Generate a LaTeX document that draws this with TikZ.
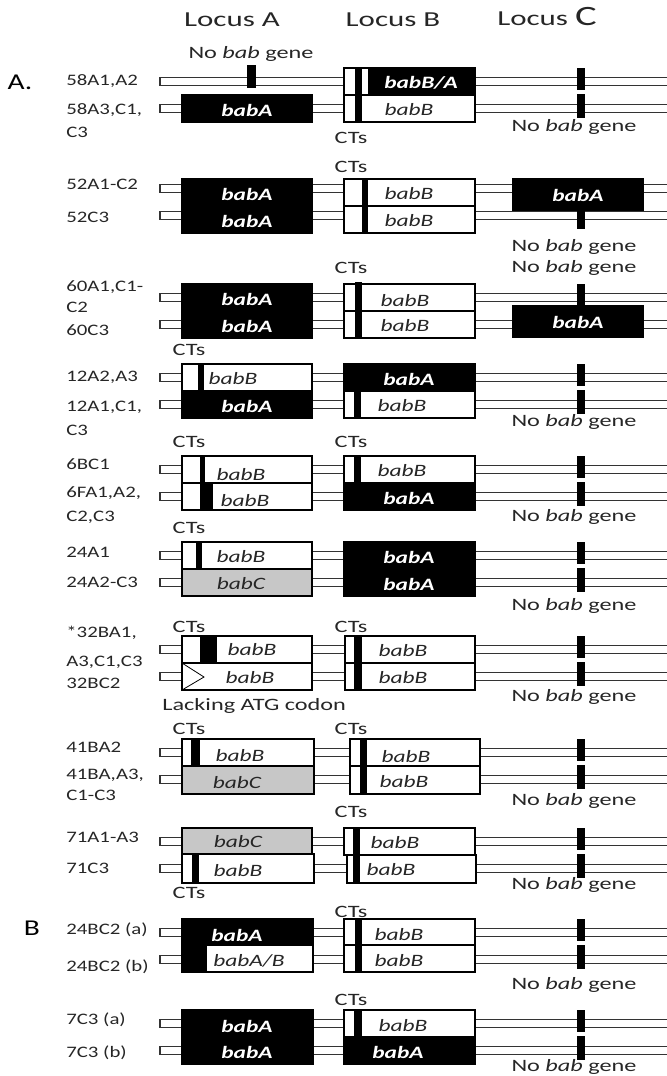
\documentclass[tikz,border=0pt]{standalone}
\usepackage{fontspec}
\setmainfont{Carlito}
\usetikzlibrary{positioning}
\tikzset{
  chrom/.style={draw=black!80, line width=0.9pt, fill=white},
  geneline/.style={draw, line width=0.9pt},
  genebox/.style={draw, line width=0.9pt, fill=white},
  geneblack/.style={draw, line width=0.9pt, fill=black},
  genegray/.style={draw, line width=0.9pt, fill=black!22},
  genename/.style={font=\fontsize{13}{15}\selectfont\itshape, xscale=1.35, inner sep=0pt, text=black!85},
  genenamew/.style={genename, font=\fontsize{13}{15}\selectfont\bfseries\itshape, text=white},
  strainlbl/.style={font=\fontsize{12}{14}\selectfont, xscale=1.3, anchor=west, inner sep=0pt, text=black!85},
  notetext/.style={font=\fontsize{13}{15}\selectfont, xscale=1.4, inner sep=0pt, text=black!85},
  locushead/.style={font=\fontsize{16}{18}\selectfont, xscale=1.45, inner sep=0pt, text=black!85},
  panelmark/.style={font=\fontsize{17}{19}\selectfont, xscale=1.3, inner sep=0pt},
}
\newcommand{\nobabgene}{No \textit{bab} gene}

\begin{document}
\begin{tikzpicture}[x=0.75pt, y=-0.75pt]
  \useasboundingbox (0,0) rectangle (667,1076);

  % chromosomes (top of pair / shift of the lines), with the small locus C marks
  \foreach \t/\d in {68/0,179/-4,284/0,364/0,456/0,542/0,636/0,739/0,828/0,919/0,1010/0} {
    \foreach \r in {13.5,40.5}
      \draw[chrom] (668,\t+\d+\r-4) -- (160,\t+\d+\r-4) -- (160,\t+\d+\r+4) -- (668,\t+\d+\r+4);
    \fill (577,\t) rectangle (585,\t+22);
    \fill (577,\t+26) rectangle (585,\t+50);
  }

  \node[locushead] (hlocA) at (232,20) {Locus A};
  \node[locushead] (hlocB) at (393,20) {Locus B};
  \node[locushead, anchor=base] (hlocC) at (547,25) {Locus {\fontsize{21}{21}\selectfont C}};

  % 58
  \begin{scope}[shift={(0,68)}]
    \fill (247,-3) rectangle (256,20);
    \draw[geneblack] (182,27) rectangle (312,54);
    \draw[genebox] (344,0) rectangle (475,54);
    \fill (368,0) rectangle (475,27);
    \fill (355,0) rectangle (362,54);
    \draw[geneline] (344,27) -- (475,27);
    \node[panelmark] (panA) at (20,14) {A.};
    \node[strainlbl] (s58a) at (66,13.5) {58A1,A2};
    \node[strainlbl] (s58b) at (66,42) {58A3,C1,};
    \node[strainlbl] (s58c) at (66,64) {C3};
    \node[notetext] (nb58a) at (251,-14) {\nobabgene};
    \node[genenamew] (g58a) at (247,42) {babA};
    \node[genenamew] (g58b) at (421,15) {babB/A};
    \node[genename] (g58c) at (409,42) {babB};
    \node[notetext] (ct58) at (351,70) {CTs};
    \node[notetext] (nb58b) at (574,59) {\nobabgene};
  \end{scope}

  % 52
  \begin{scope}[shift={(0,179)}]
    \draw[geneblack] (182,0) rectangle (312,54);
    \draw[genebox] (344,0) rectangle (475,54);
    \draw[geneline] (344,27) -- (475,27);
    \fill (362,0) rectangle (368,54);
    \draw[geneblack] (513,0) rectangle (643,31);
    \node[strainlbl] (s52a) at (66,5) {52A1-C2};
    \node[strainlbl] (s52b) at (66,38) {52C3};
    \node[genenamew] (g52a) at (247,15) {babA};
    \node[genenamew] (g52b) at (247,42) {babA};
    \node[genename] (g52c) at (409,15) {babB};
    \node[genename] (g52d) at (409,42) {babB};
    \node[genenamew] (g52e) at (578,16) {babA};
    \node[notetext] (ct52) at (351,-12) {CTs};
    \node[notetext] (nb52) at (574,68) {\nobabgene};
  \end{scope}

  % 60
  \begin{scope}[shift={(0,284)}]
    \draw[geneblack] (182,0) rectangle (312,54);
    \draw[genebox] (344,0) rectangle (475,54);
    \draw[geneline] (344,27) -- (475,27);
    \fill (355,-2) rectangle (362,54);
    \draw[geneblack] (513,22) rectangle (643,53);
    \node[strainlbl] (s60a) at (66,3) {60A1,C1-};
    \node[strainlbl] (s60b) at (66,23) {C2};
    \node[strainlbl] (s60c) at (66,46) {60C3};
    \node[genenamew] (g60a) at (247,15) {babA};
    \node[genenamew] (g60b) at (247,42) {babA};
    \node[genename] (g60c) at (405,17) {babB};
    \node[genename] (g60d) at (405,42) {babB};
    \node[genenamew] (g60e) at (578,38) {babA};
    \node[notetext] (ct60) at (351,-16) {CTs};
    \node[notetext] (nb60) at (574,-16) {\nobabgene};
  \end{scope}

  % 12
  \begin{scope}[shift={(0,364)}]
    \draw[genebox] (182,0) rectangle (312,27);
    \fill (198,0) rectangle (204,27);
    \draw[geneblack] (182,27) rectangle (312,54);
    \draw[geneblack] (344,0) rectangle (475,27);
    \draw[genebox] (344,27) rectangle (475,54);
    \fill (354,27) rectangle (361,54);
    \node[strainlbl] (s12a) at (66,13) {12A2,A3};
    \node[strainlbl] (s12b) at (66,43) {12A1,C1,};
    \node[strainlbl] (s12c) at (66,66) {C3};
    \node[genename] (g12a) at (233,15) {babB};
    \node[genenamew] (g12b) at (247,42) {babA};
    \node[genenamew] (g12c) at (409,15) {babA};
    \node[genename] (g12d) at (402,42) {babB};
    \node[notetext] (ct12) at (189,-14) {CTs};
    \node[notetext] (nb12) at (574,58) {\nobabgene};
  \end{scope}

  % 6
  \begin{scope}[shift={(0,456)}]
    \draw[genebox] (182,0) rectangle (312,54);
    \draw[geneline] (182,27) -- (312,27);
    \fill (200,0) rectangle (205,27);
    \fill (200,27) rectangle (213,54);
    \draw[genebox] (344,0) rectangle (475,27);
    \fill (354,0) rectangle (361,27);
    \draw[geneblack] (344,27) rectangle (475,54);
    \node[strainlbl] (s6a) at (66,8) {6BC1};
    \node[strainlbl] (s6b) at (66,37) {6FA1,A2,};
    \node[strainlbl] (s6c) at (66,61) {C2,C3};
    \node[genename] (g6a) at (241,19) {babB};
    \node[genename] (g6b) at (245,45) {babB};
    \node[genename] (g6c) at (402,15) {babB};
    \node[genenamew] (g6d) at (409,42) {babA};
    \node[notetext] (ct6a) at (189,-14) {CTs};
    \node[notetext] (ct6b) at (351,-14) {CTs};
    \node[notetext] (nb6) at (574,61) {\nobabgene};
  \end{scope}

  % 24
  \begin{scope}[shift={(0,542)}]
    \draw[genebox] (182,0) rectangle (312,27);
    \fill (196,0) rectangle (202,27);
    \draw[genegray] (182,27) rectangle (312,54);
    \draw[geneblack] (344,0) rectangle (475,54);
    \node[strainlbl] (s24a) at (66,10) {24A1};
    \node[strainlbl] (s24b) at (66,40) {24A2-C3};
    \node[genename] (g24a) at (241,15) {babB};
    \node[genename] (g24b) at (241,42) {babC};
    \node[genenamew] (g24c) at (409,15) {babA};
    \node[genenamew] (g24d) at (409,42) {babA};
    \node[notetext] (ct24) at (189,-14) {CTs};
    \node[notetext] (nb24) at (574,64) {\nobabgene};
  \end{scope}

  % 32
  \begin{scope}[shift={(0,636)}]
    \draw[genebox] (182,0) rectangle (312,27);
    \fill (200,0) rectangle (217,27);
    \draw[genebox] (182,27) rectangle (312,54);
    \draw[geneline, line width=0.6pt] (182,27) -- (204,41) -- (182,54);
    \draw[genebox] (345,0) rectangle (475,54);
    \draw[geneline] (345,27) -- (475,27);
    \fill (354,0) rectangle (362,54);
    \node[strainlbl] (s32a) at (66,-3) {*32BA1,};
    \node[strainlbl] (s32b) at (66,26) {A3,C1,C3};
    \node[strainlbl] (s32c) at (66,47) {32BC2};
    \node[genename] (g32a) at (252,14) {babB};
    \node[genename] (g32b) at (250,42) {babB};
    \node[genename] (g32c) at (403,15) {babB};
    \node[genename] (g32d) at (403,42) {babB};
    \node[notetext] (ct32a) at (189,-9) {CTs};
    \node[notetext] (ct32b) at (351,-9) {CTs};
    \node[notetext, anchor=west] (atg32) at (162,70) {Lacking ATG codon};
    \node[notetext] (nb32) at (574,61) {\nobabgene};
  \end{scope}

  % 41
  \begin{scope}[shift={(0,739)}]
    \draw[genebox] (182,0) rectangle (314,27);
    \fill (191,0) rectangle (200,27);
    \draw[genegray] (182,27) rectangle (314,55);
    \draw[geneline, line width=1.6pt] (182,27) -- (314,27);
    \draw[genebox] (350,0) rectangle (480,55);
    \draw[geneline] (350,27) -- (480,27);
    \fill (360,0) rectangle (367,55);
    \node[strainlbl] (s41a) at (66,8) {41BA2};
    \node[strainlbl] (s41b) at (66,36) {41BA,A3,};
    \node[strainlbl] (s41c) at (66,56) {C1-C3};
    \node[genename] (g41a) at (240,17) {babB};
    \node[genename] (g41b) at (237,44) {babC};
    \node[genename] (g41c) at (406,18) {babB};
    \node[genename] (g41d) at (404,43) {babB};
    \node[notetext] (ct41a) at (189,-10) {CTs};
    \node[notetext] (ct41b) at (351,-10) {CTs};
    \node[notetext] (nb41) at (574,62) {\nobabgene};
  \end{scope}

  % 71
  \begin{scope}[shift={(0,828)}]
    \draw[genegray] (182,0) rectangle (312,26);
    \draw[genebox] (182,26) rectangle (314,55);
    \fill (192,26) rectangle (199,55);
    \draw[genebox] (344,0) rectangle (475,27);
    \fill (353,0) rectangle (360,27);
    \draw[genebox] (347,27) rectangle (476,55);
    \fill (353,27) rectangle (360,55);
    \node[strainlbl] (s71a) at (66,9) {71A1-A3};
    \node[strainlbl] (s71b) at (66,40) {71C3};
    \node[genename] (g71a) at (238,14) {babC};
    \node[genename] (g71b) at (238,43) {babB};
    \node[genename] (g71c) at (395,15) {babB};
    \node[genename] (g71d) at (391,42) {babB};
    \node[notetext] (ct71a) at (351,-16) {CTs};
    \node[notetext] (ct71b) at (189,65) {CTs};
    \node[notetext] (nb71) at (574,57) {\nobabgene};
  \end{scope}

  % 24BC2
  \begin{scope}[shift={(0,919)}]
    \draw[geneblack] (182,0) rectangle (313,53);
    \draw[genebox] (206,26) rectangle (313,53);
    \draw[genebox] (344,0) rectangle (475,53);
    \draw[geneline] (344,26) -- (475,26);
    \fill (355,0) rectangle (362,53);
    \node[panelmark] (panB) at (32,9) {B};
    \node[strainlbl] (sbca) at (66,11) {24BC2 (a)};
    \node[strainlbl] (sbcb) at (66,48) {24BC2 (b)};
    \node[genenamew] (gbca) at (237,16) {babA};
    \node[genename] (gbcb) at (249,42) {babA/B};
    \node[genename] (gbcc) at (399,16) {babB};
    \node[genename] (gbcd) at (399,42) {babB};
    \node[notetext] (ctbc) at (351,-7) {CTs};
    \node[notetext] (nbbc) at (574,66) {\nobabgene};
  \end{scope}

  % 7C3
  \begin{scope}[shift={(0,1010)}]
    \draw[geneblack] (182,0) rectangle (313,54);
    \draw[genebox] (344,0) rectangle (475,27);
    \fill (354,0) rectangle (362,27);
    \draw[geneblack] (344,27) rectangle (475,54);
    \node[strainlbl] (s7a) at (66,10) {7C3 (a)};
    \node[strainlbl] (s7b) at (66,43) {7C3 (b)};
    \node[genenamew] (g7a) at (247,16) {babA};
    \node[genenamew] (g7b) at (247,42) {babA};
    \node[genename] (g7c) at (403,16) {babB};
    \node[genenamew] (g7d) at (398,42) {babA};
    \node[notetext] (ct7) at (351,-10) {CTs};
    \node[notetext] (nb7) at (574,57) {\nobabgene};
  \end{scope}
\end{tikzpicture}
\end{document}
